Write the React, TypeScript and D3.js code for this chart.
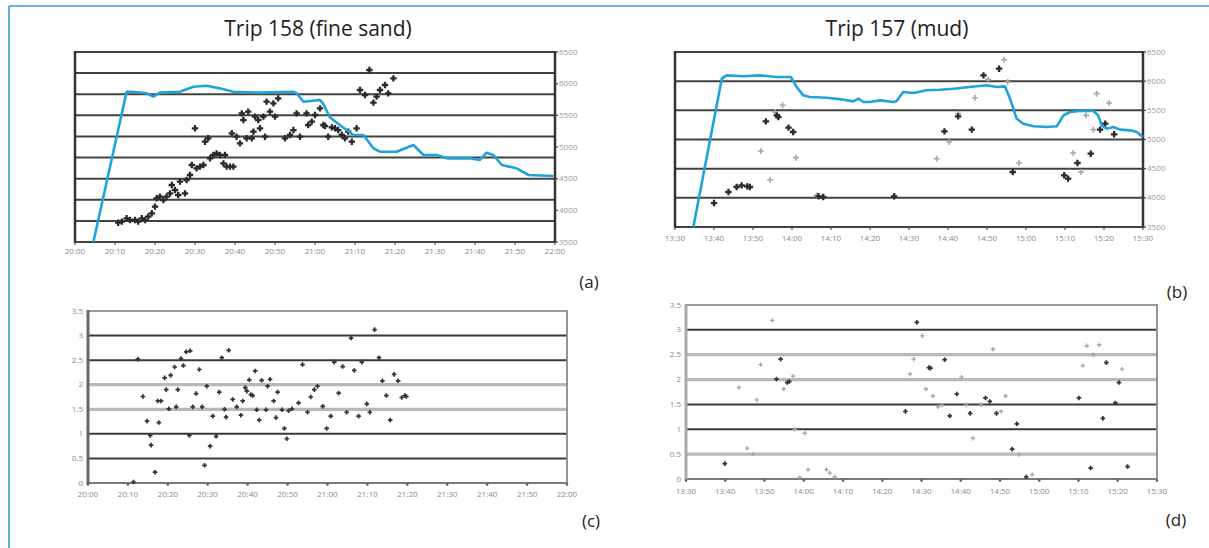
import React from 'react';
import * as d3 from 'd3';

// ---------- tick labels ----------
const ticksEvening = ["20:00","20:10","20:20","20:30","20:40","20:50","21:00","21:10","21:20","21:30","21:40","21:50","22:00"];
const ticksAfternoon = ["13:30","13:40","13:50","14:00","14:10","14:20","14:30","14:40","14:50","15:00","15:10","15:20","15:30"];
const rightTicks = [3500, 4000, 4500, 5000, 5500, 6000, 6500];
const cdTicks = [0, 0.5, 1, 1.5, 2, 2.5, 3, 3.5];
const cdTickLabels = ["0", "0.5", "1", "1.5", "2", "2.5", "3", "3.5"];

// ---------- Trip 158 (a): [minutes after 20:00, value] ----------
const blueA: [number, number][] = [
  [4.6,3500],[12.9,5873],[14.2,5873],[17.9,5848],[19.6,5795],[21.2,5858],[26.2,5873],[29.6,5952],
  [32.9,5968],[36.2,5926],[39.6,5873],[46.2,5858],[54.6,5873],[55.4,5850],[57.1,5715],[61.2,5742],
  [62,5690],[63.7,5470],[66.2,5347],[69.6,5190],[72.1,5190],[74.6,4980],[76.2,4926],[80.4,4926],
  [84.6,5032],[87.1,4874],[90.4,4874],[93,4821],[98.7,4821],[101.2,4795],[102.9,4910],[104.6,4874],
  [106.7,4716],[110.4,4663],[113.4,4558],[119.6,4542]
];
const pointsA: [number, number][] = [
  [10.8,3805],[11.7,3821],[12.9,3874],[13.75,3847],[15,3847],[15.8,3821],[16.7,3874],[17.5,3847],
  [18.3,3900],[19.2,3953],[20,4058],[20.4,4190],[21.25,4216],[22.1,4163],[22.9,4216],[23.75,4268],
  [24.2,4400],[25,4321],[25.8,4242],[26.25,4453],[27.5,4268],[27.9,4479],[28.75,4558],[29.2,4716],
  [30,5295],[30.4,4663],[31.25,4690],[32.1,4716],[32.5,5084],[33.3,5137],[33.75,4821],[34.6,4874],
  [35.4,4900],[36.25,4874],[37.1,4742],[37.5,4874],[37.9,4690],[38.75,4690],[39.6,4690],[39.2,5216],
  [40.4,5163],[41.25,5058],[41.7,5531],[42.1,5426],[42.9,5137],[43.3,5558],[44.2,5137],[44.6,5242],
  [45,5479],[45.8,5426],[46.25,5295],[47.1,5479],[47.5,5163],[47.9,5716],[48.75,5558],[49.6,5689],
  [50,5479],[50.8,5768],[52.5,5137],[53.75,5190],[54.6,5268],[55.4,5531],[56.25,5163],[57.9,5531],
  [58.3,5347],[59.2,5400],[60,5505],[61.25,5610],[62.1,5347],[62.5,5331],[63.3,5163],[64.2,5310],
  [65,5295],[65.8,5268],[66.7,5190],[67.5,5137],[68.3,5242],[69.2,5084],[70.4,5295],[71.25,5900],
  [72.5,5821],[73.6,6216],[74.6,5700],[75.4,5795],[76.25,5900],[77.5,5979],[78.3,5847],[79.6,6084]
];

// ---------- Trip 157 (b): [minutes after 13:30, value] ----------
const blueB: [number, number][] = [
  [4.7,3500],[12,6043],[13.2,6100],[17.5,6083],[21.8,6100],[26,6071],[29.7,6071],[31.2,5900],
  [32.9,5757],[34.6,5728],[38.9,5717],[43.2,5683],[45.7,5654],[47,5700],[48.3,5643],[50,5643],
  [52.6,5671],[56,5643],[56.8,5654],[58.5,5814],[61.1,5797],[64.5,5843],[67.9,5854],[71.4,5871],
  [75.6,5900],[79.9,5929],[82.5,5900],[84.6,5911],[85.9,5700],[87.6,5357],[89.3,5271],[91.9,5226],
  [95.3,5214],[97.9,5226],[99.6,5414],[101.3,5471],[103.8,5489],[107.3,5489],[108.5,5414],[109.4,5243],
  [110.7,5186],[112.4,5214],[114.1,5169],[116.7,5157],[118.4,5129],[120,5043]
];
const pointsBDark: [number, number][] = [
  [10,3911],[13.7,4100],[15.8,4186],[17.1,4214],[18.5,4197],[19.2,4186],[23.3,5311],[26.1,5414],
  [26.5,5386],[29.1,5203],[30.3,5129],[36.8,4026],[38,4014],[56.2,4026],[69.1,5140],[72.6,5397],
  [76.1,5169],[79.1,6100],[83.1,6214],[86.6,4443],[99.8,4386],[100.8,4329],[103.2,4597],[106.6,4757],
  [109,5169],[110.3,5271],[112.6,5089]
];
const pointsBLight: [number, number][] = [
  [22,4803],[24.4,4311],[25.6,5471],[27.6,5586],[31,4689],[36.3,4043],[67.1,4671],[70.3,4957],
  [72.6,5443],[76.9,5717],[80.3,6026],[84.4,6369],[85.3,5986],[88.2,4597],[102.1,4769],[104.1,4443],
  [105.4,5414],[108.1,5786],[107.3,5169],[111.3,5626]
];

// ---------- (c): [minutes after 20:00, value] ----------
const pointsC: [number, number][] = [
  [11.4,0.02],[12.5,2.52],[13.75,1.76],[14.8,1.26],[15.6,0.97],[15.8,0.77],[16.8,0.22],[17.5,1.67],
  [17.75,1.23],[18.3,1.67],[19.2,2.14],[19.6,1.9],[20.25,1.51],[20.7,2.19],[21.7,2.36],[22.1,1.55],
  [22.5,1.9],[23.3,2.53],[23.9,2.39],[24.6,2.67],[25.6,2.69],[25.4,0.97],[26.25,1.55],[27.1,1.82],
  [27.9,2.31],[28.6,1.55],[29.2,0.36],[29.75,1.97],[30.6,0.75],[31.25,1.36],[32.1,0.95],[32.9,1.85],
  [33.5,2.55],[34.2,1.5],[34.6,1.34],[35.25,2.7],[36.25,1.7],[37.25,1.55],[38.3,1.38],[38.75,1.67],
  [39.4,1.94],[39.8,1.87],[40.4,2.1],[40.8,1.8],[41.25,1.78],[41.9,2.28],[42.25,1.49],[42.9,1.28],
  [43.5,2.09],[44.6,1.49],[45,1.97],[45.6,2.11],[46.5,1.67],[47.1,1.33],[47.5,1.85],[48.6,1.49],
  [49.2,1.11],[49.8,0.9],[50.25,1.47],[51.1,1.51],[52.75,1.63],[53.75,2.41],[55,1.44],[55.8,1.75],
  [56.7,1.9],[57.5,1.97],[58.8,1.56],[59.8,1.11],[60.8,1.36],[61.7,2.46],[62.8,1.83],[63.8,2.37],
  [64.8,1.44],[65.9,2.95],[66.7,2.29],[67.8,1.36],[68.6,2.46],[69.85,1.61],[70.6,1.44],[71.8,3.12],
  [72.9,2.55],[73.75,2.08],[74.75,1.78],[75.7,1.28],[76.7,2.21],[77.7,2.08],[78.6,1.74],[79.4,1.78],[79.75,1.76]
];

// ---------- (d): [minutes after 13:30, value] ----------
const pointsDDark: [number, number][] = [
  [9.9,0.31],[23.05,2.01],[24.1,2.41],[25.8,1.94],[26.3,1.96],[55.9,1.36],[58.8,3.15],[61.9,2.24],
  [62.3,2.23],[65.9,2.4],[67.2,1.27],[69,1.71],[72.4,1.32],[76.3,1.63],[77.4,1.56],[79.1,1.32],
  [83.1,0.6],[84.3,1.11],[86.7,0.04],[100.1,1.63],[103.1,0.22],[106.2,1.22],[107.1,2.34],[109.4,1.53],
  [110.3,1.94],[112.5,0.25]
];
const pointsDLight: [number, number][] = [
  [13.5,1.84],[15.6,0.62],[17.1,0.5],[18,1.59],[19,2.3],[22,3.19],[24.9,1.81],[27.3,2.07],[27.7,1.0],
  [29,0.03],[30.25,0.92],[31.1,0.19],[35.8,0.19],[36.6,0.12],[37.9,0.04],[57.1,2.11],[58,2.41],
  [60.2,2.88],[61.1,1.81],[62.9,1.67],[64.2,1.45],[65.1,1.49],[70.2,2.05],[71.4,1.49],[73.1,0.82],
  [75.2,1.49],[78.2,2.61],[80.3,1.36],[81.4,1.67],[84.8,0.49],[88.2,0.09],[101.1,2.28],[102.1,2.68],
  [103.8,2.5],[105.3,2.7],[111.1,2.21]
];

const FONT = "'Open Sans', 'Noto Sans', sans-serif";
const BLUE = "#1fa3dc";

function Cross({ x, y, s, w, color }: { x: number; y: number; s: number; w: number; color: string }) {
  return <path d={`M${x - s},${y}H${x + s}M${x},${y - s}V${y + s}`} stroke={color} strokeWidth={w} fill="none" />;
}

function XAxisLabels({ xs, labels, y, tickY, dots }: { xs: d3.ScaleLinear<number, number>; labels: string[]; y: number; tickY: number; dots?: boolean }) {
  return (
    <g>
      {labels.map((l, i) => {
        const x = xs(i * 10);
        return (
          <g key={l}>
            {dots ? <circle cx={x} cy={tickY + 1.5} r={1.2} fill="#555" /> : <line x1={x} x2={x} y1={tickY} y2={tickY + 3} stroke="#555" strokeWidth={1.2} />}
            <text x={x} y={y} fontSize={8} fill="#8a8a8a" textAnchor="middle" fontFamily={FONT}>{l}</text>
          </g>
        );
      })}
    </g>
  );
}

function TopPanel({ x0, x1, yTop, yBot, labels, labelY, blue, dark, light, gridCount }: {
  x0: number; x1: number; yTop: number; yBot: number; labels: string[]; labelY: number;
  blue: [number, number][]; dark: [number, number][]; light: [number, number][]; gridCount: number;
}) {
  const xs = d3.scaleLinear().domain([0, 120]).range([x0, x1]);
  const ys = d3.scaleLinear().domain([3500, 6500]).range([yBot, yTop]);
  const gs = d3.scaleLinear().domain([0, gridCount]).range([yBot, yTop]);
  const line = d3.line<[number, number]>().x(d => xs(d[0])).y(d => ys(d[1]));
  return (
    <g>
      {d3.range(gridCount + 1).map(i => (
        <line key={i} x1={x0} x2={x1} y1={gs(i)} y2={gs(i)} stroke="#2e2e2e" strokeWidth={2} opacity={0.9} />
      ))}
      <line x1={x0} x2={x0} y1={yTop - 1} y2={yBot + 1} stroke="#333" strokeWidth={2.5} />
      <line x1={x1} x2={x1} y1={yTop - 1} y2={yBot + 1} stroke="#333" strokeWidth={2.5} />
      {rightTicks.map(t => (
        <g key={t}>
          <line x1={x1} x2={x1 + 3} y1={ys(t)} y2={ys(t)} stroke="#444" strokeWidth={1.2} />
          <text x={x1 + 4} y={ys(t) + 2.5} fontSize={8} fill="#999" fontFamily={FONT}>{t}</text>
        </g>
      ))}
      <XAxisLabels xs={xs} labels={labels} y={labelY} tickY={yBot} />
      {light.map((d, i) => <Cross key={'l' + i} x={xs(d[0])} y={ys(d[1])} s={3} w={1.6} color="#a8a8a8" />)}
      {dark.map((d, i) => <Cross key={'d' + i} x={xs(d[0])} y={ys(d[1])} s={3.2} w={2.3} color="#2a2a2a" />)}
      <path d={line(blue) || ''} fill="none" stroke={BLUE} strokeWidth={2.6} strokeLinejoin="round" />
    </g>
  );
}

function BottomPanel({ x0, x1, yTop, yBot, labels, labelY, dark, light, lightLevels, frameLeft }: {
  x0: number; x1: number; yTop: number; yBot: number; labels: string[]; labelY: number;
  dark: [number, number][]; light: [number, number][]; lightLevels: number[]; frameLeft: string;
}) {
  const xs = d3.scaleLinear().domain([0, 120]).range([x0, x1]);
  const ys = d3.scaleLinear().domain([0, 3.5]).range([yBot, yTop]);
  return (
    <g>
      {cdTicks.map(t => {
        if (t === 0) return null;
        const isTop = t === 3.5;
        const isLight = lightLevels.includes(t);
        return (
          <line key={t} x1={x0} x2={x1} y1={ys(t)} y2={ys(t)}
            stroke={isTop ? "#9a9a9a" : isLight ? "#b9b9b9" : "#3a3a3a"}
            strokeWidth={isTop ? 1.8 : isLight ? 3.2 : 2} />
        );
      })}
      <line x1={x0} x2={x1} y1={yBot} y2={yBot} stroke="#7a7a7a" strokeWidth={2} />
      <line x1={x1} x2={x1} y1={yTop - 1} y2={yBot + 1} stroke="#8a8a8a" strokeWidth={1.8} />
      <line x1={x0} x2={x0} y1={yTop - 1} y2={yBot + 1} stroke={frameLeft} strokeWidth={3} />
      {cdTicks.map((t, i) => (
        <text key={t} x={x0 - 5} y={ys(t) + 2.5} fontSize={8} fill="#888" textAnchor="end" fontFamily={FONT}>{cdTickLabels[i]}</text>
      ))}
      <XAxisLabels xs={xs} labels={labels} y={labelY} tickY={yBot} dots />
      {light.map((d, i) => <Cross key={'l' + i} x={xs(d[0])} y={ys(d[1])} s={2.2} w={1.3} color="#a5a5a5" />)}
      {dark.map((d, i) => <Cross key={'d' + i} x={xs(d[0])} y={ys(d[1])} s={2.3} w={1.7} color="#333" />)}
    </g>
  );
}

export default function App() {
  return (
    <svg width={1209} height={548} style={{ position: 'absolute', left: 0, top: 0, background: '#fff' }}>
      <rect x={0} y={0} width={1209} height={548} fill="#fff" />
      <line x1={9} x2={1209} y1={6} y2={6} stroke="#3a9fd0" strokeWidth={1.6} />
      <line x1={9} x2={9} y1={6} y2={548} stroke="#3a9fd0" strokeWidth={1.6} />

      <text x={318} y={36} fontSize={21} textAnchor="middle" fontFamily={FONT} fill="#222">Trip 158 (fine sand)</text>
      <text x={897} y={36} fontSize={21} textAnchor="middle" fontFamily={FONT} fill="#222">Trip 157 (mud)</text>

      <TopPanel x0={75} x1={555} yTop={52} yBot={242} labels={ticksEvening} labelY={254}
        blue={blueA} dark={pointsA} light={[]} gridCount={9} />
      <TopPanel x0={675} x1={1143} yTop={52} yBot={227} labels={ticksAfternoon} labelY={241}
        blue={blueB} dark={pointsBDark} light={pointsBLight} gridCount={6} />

      <BottomPanel x0={88} x1={567} yTop={311} yBot={483} labels={ticksEvening} labelY={497}
        dark={pointsC} light={[]} lightLevels={[1.5, 2]} frameLeft="#666" />
      <BottomPanel x0={686} x1={1157} yTop={305} yBot={479} labels={ticksAfternoon} labelY={494}
        dark={pointsDDark} light={pointsDLight} lightLevels={[0.5, 2, 2.5]} frameLeft="#aaa" />

      <text x={589} y={288} fontSize={17} textAnchor="middle" fontFamily={FONT} fill="#222">(a)</text>
      <text x={1177} y={298} fontSize={17} textAnchor="middle" fontFamily={FONT} fill="#222">(b)</text>
      <text x={591} y={527} fontSize={17} textAnchor="middle" fontFamily={FONT} fill="#222">(c)</text>
      <text x={1176} y={526} fontSize={17} textAnchor="middle" fontFamily={FONT} fill="#222">(d)</text>
    </svg>
  );
}
